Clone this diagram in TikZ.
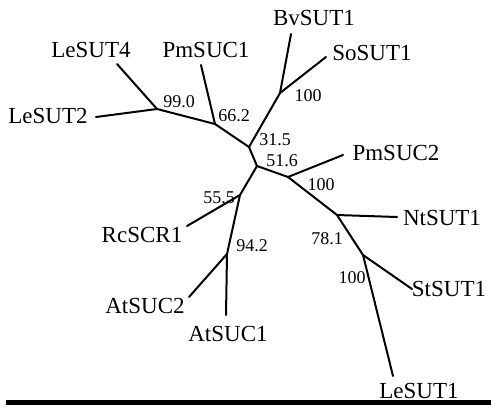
\documentclass[tikz,border=0pt]{standalone}
\usepackage{fontspec}
\setmainfont{Liberation Serif}
\begin{document}
\begin{tikzpicture}[x=0.5pt,y=-0.5pt,
  branch/.style={line width=1pt, line cap=round, line join=round},
  leaflab/.style={inner sep=0pt, font=\fontsize{11.5pt}{13pt}\selectfont},
  bootlab/.style={inner sep=0pt, font=\fontsize{9pt}{10pt}\selectfont}]
\useasboundingbox (0,0) rectangle (491,407);
% internal nodes
\coordinate (n1) at (157,109);
\coordinate (n2) at (215,124);
\coordinate (n3) at (249,147);
\coordinate (n4) at (280,93);
\coordinate (n5) at (257,166);
\coordinate (n6) at (288,177);
\coordinate (n7) at (337,215);
\coordinate (n8) at (363,255);
\coordinate (n9) at (240,195);
\coordinate (n10) at (227,254);
% leaves
\coordinate (lLeSUT4) at (117,64);
\coordinate (lLeSUT2) at (96,117);
\coordinate (lPmSUC1) at (201,65);
\coordinate (lBvSUT1) at (291,34);
\coordinate (lSoSUT1) at (326,57);
\coordinate (lPmSUC2) at (343,155);
\coordinate (lNtSUT1) at (397,217);
\coordinate (lStSUT1) at (412,289);
\coordinate (lLeSUT1) at (393,376);
\coordinate (lRcSCR1) at (187,226);
\coordinate (lAtSUC2) at (189,297);
\coordinate (lAtSUC1) at (226,315);
% branches
\draw[branch] (lLeSUT4) -- (n1);
\draw[branch] (lLeSUT2) -- (n1);
\draw[branch] (n1) -- (n2);
\draw[branch] (lPmSUC1) -- (n2);
\draw[branch] (n2) -- (n3);
\draw[branch] (n3) -- (n4);
\draw[branch] (n4) -- (lBvSUT1);
\draw[branch] (n4) -- (lSoSUT1);
\draw[branch] (n3) -- (n5);
\draw[branch] (n5) -- (n6);
\draw[branch] (n6) -- (lPmSUC2);
\draw[branch] (n6) -- (n7);
\draw[branch] (n7) -- (lNtSUT1);
\draw[branch] (n7) -- (n8);
\draw[branch] (n8) -- (lStSUT1);
\draw[branch] (n8) -- (lLeSUT1);
\draw[branch] (n5) -- (n9);
\draw[branch] (n9) -- (lRcSCR1);
\draw[branch] (n9) -- (n10);
\draw[branch] (n10) -- (lAtSUC2);
\draw[branch] (n10) -- (lAtSUC1);
% leaf labels
\node[leaflab] (tLeSUT4) at (91,50) {LeSUT4};
\node[leaflab] (tPmSUC1) at (206,50) {PmSUC1};
\node[leaflab] (tLeSUT2) at (48,116) {LeSUT2};
\node[leaflab] (tBvSUT1) at (314,18) {BvSUT1};
\node[leaflab] (tSoSUT1) at (372,53) {SoSUT1};
\node[leaflab] (tPmSUC2) at (396,153) {PmSUC2};
\node[leaflab] (tRcSCR1) at (142,235) {RcSCR1};
\node[leaflab] (tAtSUC2) at (145,306) {AtSUC2};
\node[leaflab] (tAtSUC1) at (228,334) {AtSUC1};
\node[leaflab] (tNtSUT1) at (442,218) {NtSUT1};
\node[leaflab] (tStSUT1) at (449,289) {StSUT1};
\node[leaflab] (tLeSUT1) at (419,391) {LeSUT1};
% bootstrap labels
\node[bootlab] (b1) at (179,102) {99.0};
\node[bootlab] (b2) at (234,116) {66.2};
\node[bootlab] (b3) at (275,140) {31.5};
\node[bootlab] (b4) at (308,96) {100};
\node[bootlab] (b5) at (282,161) {51.6};
\node[bootlab] (b6) at (321,185) {100};
\node[bootlab] (b7) at (219,198) {55.5};
\node[bootlab] (b8) at (252,246) {94.2};
\node[bootlab] (b9) at (327,239) {78.1};
\node[bootlab] (b10) at (352,278) {100};
% bottom rule
\fill (6,400) rectangle (491,405);
\end{tikzpicture}
\end{document}
